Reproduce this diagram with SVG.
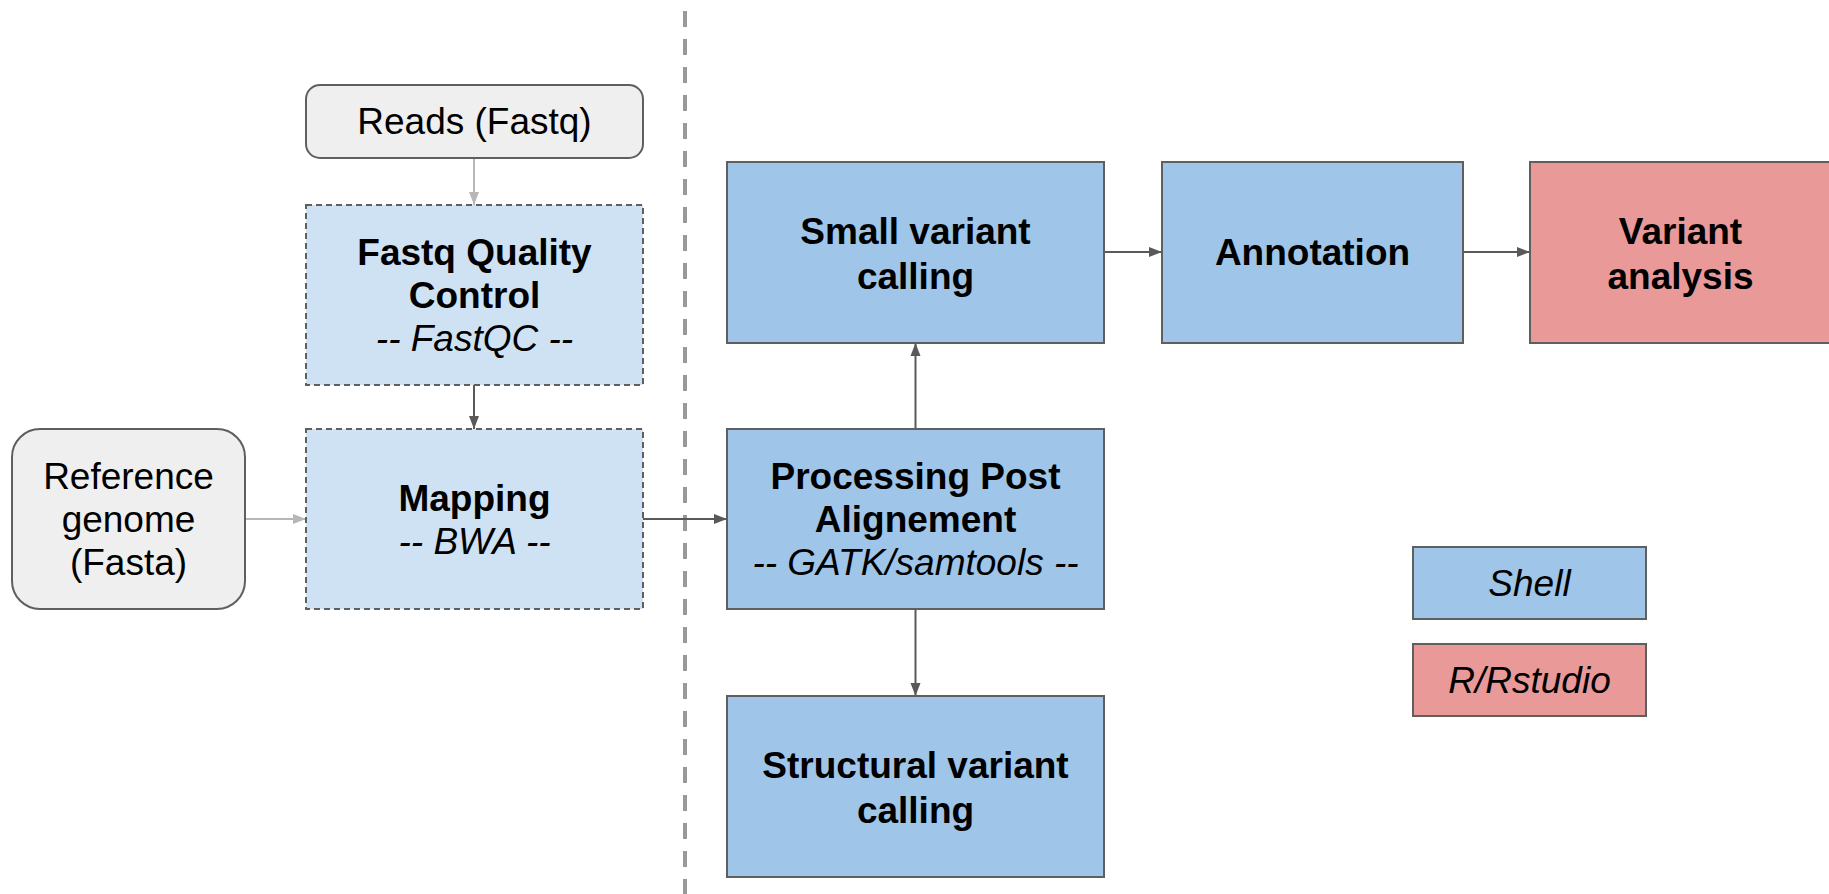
<svg xmlns="http://www.w3.org/2000/svg" width="1829" height="894" viewBox="0 0 1829 894">
<style>
text{font-family:"Liberation Sans",Arial,sans-serif;font-size:37px;fill:#000;text-anchor:middle}
.b{font-weight:bold}
.i{font-style:italic}
.input{fill:#efefef;stroke:#5f5f5f;stroke-width:2}
.tool{fill:#cfe2f3;stroke:#5f5f5f;stroke-width:2;stroke-dasharray:6 4}
.shell{fill:#9fc5e8;stroke:#5f5f5f;stroke-width:2}
.r{fill:#ea9999;stroke:#5f5f5f;stroke-width:2}
.dk{stroke:#595959;stroke-width:2;fill:none}
.lt{stroke:#b7b7b7;stroke-width:2;fill:none}
</style>
<defs>
<marker id="ad" markerUnits="userSpaceOnUse" markerWidth="14" markerHeight="12" refX="13" refY="6" orient="auto"><path d="M0,1 L13,6 L0,11 Z" fill="#595959"/></marker>
<marker id="al" markerUnits="userSpaceOnUse" markerWidth="14" markerHeight="12" refX="13" refY="6" orient="auto"><path d="M0,1 L13,6 L0,11 Z" fill="#b7b7b7"/></marker>
</defs>
<rect width="1829" height="894" fill="#fff"/>
<line x1="685" y1="11" x2="685" y2="894" stroke="#999" stroke-width="4" stroke-dasharray="16 12"/>
<g id="connectors">
<line class="lt" x1="474" y1="158" x2="474" y2="205" marker-end="url(#al)"/>
<line class="dk" x1="474" y1="385" x2="474" y2="429" marker-end="url(#ad)"/>
<line class="lt" x1="245" y1="519" x2="306" y2="519" marker-end="url(#al)"/>
<line class="dk" x1="643" y1="519" x2="727" y2="519" marker-end="url(#ad)"/>
<line class="dk" x1="915.5" y1="429" x2="915.5" y2="343" marker-end="url(#ad)"/>
<line class="dk" x1="915.5" y1="609" x2="915.5" y2="696" marker-end="url(#ad)"/>
<line class="dk" x1="1104" y1="252" x2="1162" y2="252" marker-end="url(#ad)"/>
<line class="dk" x1="1463" y1="252" x2="1530" y2="252" marker-end="url(#ad)"/>
</g>
<g id="reads"><rect class="input" x="306" y="85" width="337" height="73" rx="14"/><text x="474.5" y="134">Reads (Fastq)</text></g>
<g id="fastqc"><rect class="tool" x="306" y="205" width="337" height="180"/><text class="b" x="474.5" y="265">Fastq Quality</text><text class="b" x="474.5" y="308">Control</text><text class="i" x="474.5" y="351">-- FastQC --</text></g>
<g id="reference"><rect class="input" x="12" y="429" width="233" height="180" rx="28"/><text x="128.5" y="489">Reference</text><text x="128.5" y="532">genome</text><text x="128.5" y="575">(Fasta)</text></g>
<g id="mapping"><rect class="tool" x="306" y="429" width="337" height="180"/><text class="b" x="474.5" y="511">Mapping</text><text class="i" x="474.5" y="554">-- BWA --</text></g>
<g id="small"><rect class="shell" x="727" y="162" width="377" height="181"/><text class="b" x="915.5" y="244">Small variant</text><text class="b" x="915.5" y="289">calling</text></g>
<g id="annotation"><rect class="shell" x="1162" y="162" width="301" height="181"/><text class="b" x="1312.5" y="265">Annotation</text></g>
<g id="analysis"><rect class="r" x="1530" y="162" width="301" height="181"/><text class="b" x="1680.5" y="244">Variant</text><text class="b" x="1680.5" y="289">analysis</text></g>
<g id="processing"><rect class="shell" x="727" y="429" width="377" height="180"/><text class="b" x="915.5" y="489">Processing Post</text><text class="b" x="915.5" y="532">Alignement</text><text class="i" x="915.5" y="575">-- GATK/samtools --</text></g>
<g id="structural"><rect class="shell" x="727" y="696" width="377" height="181"/><text class="b" x="915.5" y="778">Structural variant</text><text class="b" x="915.5" y="823">calling</text></g>
<g id="legend-shell"><rect class="shell" x="1413" y="547" width="233" height="72"/><text class="i" x="1529.5" y="596">Shell</text></g>
<g id="legend-r"><rect class="r" x="1413" y="644" width="233" height="72"/><text class="i" x="1529.5" y="693">R/Rstudio</text></g>
</svg>
